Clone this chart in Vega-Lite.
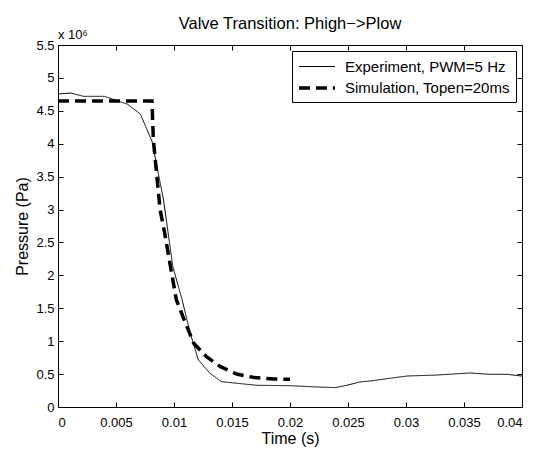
{
  "$schema": "https://vega.github.io/schema/vega-lite/v6.json",
  "width": 464,
  "height": 362,
  "autosize": "none",
  "padding": {"left": 58, "top": 45, "right": 15, "bottom": 44},
  "background": "white",
  "config": {
    "font": "Liberation Sans",
    "view": {"stroke": "black", "strokeWidth": 1},
    "axis": {
      "grid": false,
      "domainColor": "black",
      "tickColor": "black",
      "labelColor": "black",
      "titleColor": "black",
      "labelFont": "Liberation Sans",
      "titleFont": "Liberation Sans",
      "labelFontSize": 13,
      "titleFontSize": 16,
      "titleFontWeight": "normal",
      "tickSize": -5,
      "labelPadding": 9
    },
    "title": {"font": "Liberation Sans", "fontSize": 16.5, "fontWeight": "normal", "color": "black"}
  },
  "title": {"text": "Valve Transition: Phigh−>Plow", "offset": -3},
  "data": {
    "values": [
      {"t": 0, "p": 4756000, "series": "Experiment, PWM=5 Hz"},
      {"t": 0.0011, "p": 4770000, "series": "Experiment, PWM=5 Hz"},
      {"t": 0.0022, "p": 4720000, "series": "Experiment, PWM=5 Hz"},
      {"t": 0.004, "p": 4720000, "series": "Experiment, PWM=5 Hz"},
      {"t": 0.006, "p": 4600000, "series": "Experiment, PWM=5 Hz"},
      {"t": 0.0071, "p": 4450000, "series": "Experiment, PWM=5 Hz"},
      {"t": 0.0081, "p": 4040000, "series": "Experiment, PWM=5 Hz"},
      {"t": 0.0091, "p": 3145000, "series": "Experiment, PWM=5 Hz"},
      {"t": 0.0099, "p": 2130000, "series": "Experiment, PWM=5 Hz"},
      {"t": 0.0107, "p": 1630000, "series": "Experiment, PWM=5 Hz"},
      {"t": 0.0114, "p": 1120000, "series": "Experiment, PWM=5 Hz"},
      {"t": 0.0121, "p": 714000, "series": "Experiment, PWM=5 Hz"},
      {"t": 0.0131, "p": 512000, "series": "Experiment, PWM=5 Hz"},
      {"t": 0.0141, "p": 385000, "series": "Experiment, PWM=5 Hz"},
      {"t": 0.0171, "p": 330000, "series": "Experiment, PWM=5 Hz"},
      {"t": 0.02, "p": 324000, "series": "Experiment, PWM=5 Hz"},
      {"t": 0.0217, "p": 309000, "series": "Experiment, PWM=5 Hz"},
      {"t": 0.0239, "p": 294000, "series": "Experiment, PWM=5 Hz"},
      {"t": 0.025, "p": 334000, "series": "Experiment, PWM=5 Hz"},
      {"t": 0.026, "p": 380000, "series": "Experiment, PWM=5 Hz"},
      {"t": 0.0269, "p": 395000, "series": "Experiment, PWM=5 Hz"},
      {"t": 0.0301, "p": 471000, "series": "Experiment, PWM=5 Hz"},
      {"t": 0.0327, "p": 486000, "series": "Experiment, PWM=5 Hz"},
      {"t": 0.0355, "p": 517000, "series": "Experiment, PWM=5 Hz"},
      {"t": 0.0372, "p": 497000, "series": "Experiment, PWM=5 Hz"},
      {"t": 0.0387, "p": 497000, "series": "Experiment, PWM=5 Hz"},
      {"t": 0.04, "p": 470000, "series": "Experiment, PWM=5 Hz"},
      {"t": 0, "p": 4650000, "series": "Simulation, Topen=20ms"},
      {"t": 0.0081, "p": 4650000, "series": "Simulation, Topen=20ms"},
      {"t": 0.00822, "p": 4060000, "series": "Simulation, Topen=20ms"},
      {"t": 0.0088, "p": 3000000, "series": "Simulation, Topen=20ms"},
      {"t": 0.0092, "p": 2640000, "series": "Simulation, Topen=20ms"},
      {"t": 0.0097, "p": 2130000, "series": "Simulation, Topen=20ms"},
      {"t": 0.0102, "p": 1630000, "series": "Simulation, Topen=20ms"},
      {"t": 0.011, "p": 1270000, "series": "Simulation, Topen=20ms"},
      {"t": 0.0117, "p": 968000, "series": "Simulation, Topen=20ms"},
      {"t": 0.0128, "p": 764000, "series": "Simulation, Topen=20ms"},
      {"t": 0.014, "p": 612000, "series": "Simulation, Topen=20ms"},
      {"t": 0.0154, "p": 501000, "series": "Simulation, Topen=20ms"},
      {"t": 0.0168, "p": 451000, "series": "Simulation, Topen=20ms"},
      {"t": 0.0186, "p": 425000, "series": "Simulation, Topen=20ms"},
      {"t": 0.02, "p": 422000, "series": "Simulation, Topen=20ms"}
    ]
  },
  "layer": [
    {
      "transform": [{"filter": "datum.series === 'Experiment, PWM=5 Hz'"}],
      "mark": {"type": "line", "color": "black", "clip": true},
      "encoding": {
        "x": {"field": "t", "type": "quantitative", "scale": {"domain": [0, 0.04], "nice": false},
          "axis": {"orient": "bottom", "title": "Time (s)", "values": [0, 0.005, 0.01, 0.015, 0.02, 0.025, 0.03, 0.035, 0.04], "format": "~g", "labelPadding": 14, "titlePadding": 1}},
        "y": {"field": "p", "type": "quantitative", "scale": {"domain": [0, 5500000], "nice": false},
          "axis": {"orient": "left", "title": "Pressure (Pa)", "values": [0, 500000, 1000000, 1500000, 2000000, 2500000, 3000000, 3500000, 4000000, 4500000, 5000000, 5500000], "labelExpr": "format(datum.value / 1000000, '~g')", "titlePadding": 5}},
        "strokeDash": {"field": "series", "type": "nominal",
          "scale": {"domain": ["Experiment, PWM=5 Hz", "Simulation, Topen=20ms"], "range": [[1, 0], [11, 6]]},
          "legend": {"title": null, "orient": "top-right", "offset": 6, "strokeColor": "black", "fillColor": "white", "padding": 6, "labelFontSize": 15, "labelLimit": 300, "labelFont": "Liberation Sans", "labelColor": "black", "symbolType": "M-2,0H2", "symbolSize": 324, "symbolOffset": 8, "labelOffset": 17, "symbolStrokeColor": "black", "rowPadding": 2, "cornerRadius": 0}},
        "strokeWidth": {"field": "series", "type": "nominal",
          "scale": {"domain": ["Experiment, PWM=5 Hz", "Simulation, Topen=20ms"], "range": [1, 3.5]},
          "legend": {"title": null, "orient": "top-right", "offset": 6, "strokeColor": "black", "fillColor": "white", "padding": 6, "labelFontSize": 15, "labelLimit": 300, "labelFont": "Liberation Sans", "labelColor": "black", "symbolType": "M-2,0H2", "symbolSize": 324, "symbolOffset": 8, "labelOffset": 17, "symbolStrokeColor": "black", "rowPadding": 2, "cornerRadius": 0}}
      }
    },
    {
      "transform": [{"filter": "datum.series === 'Simulation, Topen=20ms'"}],
      "mark": {"type": "line", "color": "black", "clip": true},
      "encoding": {
        "x": {"field": "t", "type": "quantitative", "scale": {"domain": [0, 0.04], "nice": false},
          "axis": {"orient": "top", "title": null, "labels": false, "values": [0, 0.005, 0.01, 0.015, 0.02, 0.025, 0.03, 0.035, 0.04]}},
        "y": {"field": "p", "type": "quantitative", "scale": {"domain": [0, 5500000], "nice": false},
          "axis": {"orient": "right", "title": null, "labels": false, "values": [0, 500000, 1000000, 1500000, 2000000, 2500000, 3000000, 3500000, 4000000, 4500000, 5000000, 5500000]}},
        "strokeDash": {"field": "series", "type": "nominal"},
        "strokeWidth": {"field": "series", "type": "nominal"}
      }
    },
    {
      "data": {"values": [{"note": "multiplier"}]},
      "mark": {"type": "text", "text": "x 10⁶", "align": "left", "baseline": "alphabetic", "dy": -6, "fontSize": 13, "fontWeight": "normal", "font": "Liberation Sans", "color": "black"},
      "encoding": {
        "x": {"datum": 0, "type": "quantitative", "axis": null},
        "y": {"datum": 5500000, "type": "quantitative", "axis": null}
      }
    }
  ]
}
